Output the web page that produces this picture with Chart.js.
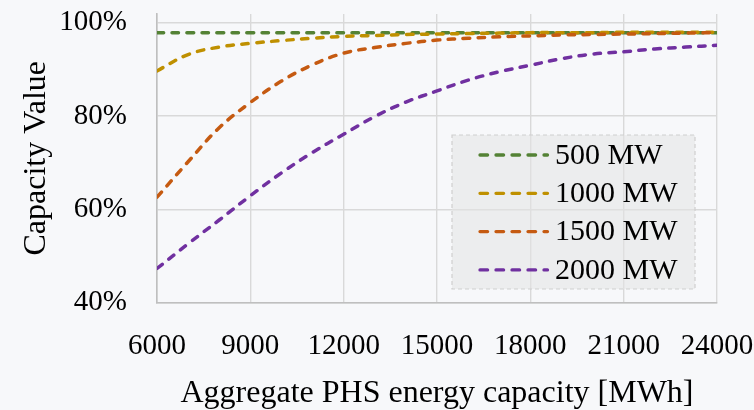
<!DOCTYPE html>
<html lang="en">
<head>
    <meta charset="UTF-8">
    <title>Capacity Value vs PHS energy capacity</title>
    <script src="https://cdn.jsdelivr.net/npm/chart.js"></script>
    <style>
        html, body {
            margin: 0;
            padding: 0;
            background: #f7f8fa;
        }
        #wrap {
            width: 754px;
            height: 410px;
        }
    </style>
</head>
<body>
    <div id="wrap"><canvas id="capChart"></canvas></div>

    <script>
        // x values (aggregate PHS energy capacity, MWh)
        const energyMWh = [6000, 7000, 8000, 9000, 10000, 11000, 12000, 13000, 14000, 15000,
            16000, 17000, 18000, 19000, 20000, 21000, 22000, 23000, 24000];

        const seriesNames = ['500 MW', '1000 MW', '1500 MW', '2000 MW'];
        const seriesColors = ['#548235', '#bf9000', '#c55a11', '#7030a0'];

        // capacity value
        const cv500 = [0.979, 0.979, 0.979, 0.979, 0.979, 0.979, 0.979, 0.979, 0.979, 0.979,
            0.979, 0.979, 0.979, 0.979, 0.979, 0.979, 0.979, 0.979, 0.979];
        const cv1000 = [0.897, 0.932, 0.948, 0.956, 0.962, 0.967, 0.971, 0.973, 0.975, 0.976,
            0.977, 0.978, 0.979, 0.979, 0.979, 0.980, 0.980, 0.980, 0.980];
        const cv1500 = [0.626, 0.702, 0.775, 0.829, 0.875, 0.910, 0.935, 0.947, 0.956, 0.963,
            0.967, 0.970, 0.972, 0.974, 0.975, 0.976, 0.977, 0.978, 0.979];
        const cv2000 = [0.473, 0.526, 0.577, 0.629, 0.678, 0.722, 0.761, 0.799, 0.830, 0.854,
            0.877, 0.895, 0.909, 0.923, 0.933, 0.938, 0.944, 0.948, 0.952];

        const xTicks = [6000, 9000, 12000, 15000, 18000, 21000, 24000];
        const yTicks = [0.4, 0.6, 0.8, 1.0];

        const FONT = "'Liberation Serif', 'Times New Roman', serif";

        const allSeries = [cv500, cv1000, cv1500, cv2000];

        const datasets = allSeries.map((vals, i) => ({
            label: seriesNames[i],
            data: vals.map((v, k) => ({ x: energyMWh[k], y: v })),
            borderColor: seriesColors[i],
            backgroundColor: seriesColors[i],
            borderWidth: 3.5,
            borderDash: [6.5, 8.5],
            borderCapStyle: 'round',
            pointRadius: 0,
            tension: 0.4,
            fill: false,
            order: allSeries.length - i // later series drawn on top
        }));

        // legend box drawn inside the plot, like the original (see-through fill)
        const boxLegend = {
            id: 'boxLegend',
            afterDatasetsDraw(chart) {
                const ctx = chart.ctx;
                const area = chart.chartArea;
                const bx = area.left + 295;
                const by = area.top + 121;
                const bw = 243;
                const bh = 154;

                ctx.save();
                ctx.fillStyle = 'rgba(228, 228, 228, 0.55)';
                ctx.fillRect(bx, by, bw, bh);
                ctx.setLineDash([4, 3]);
                ctx.strokeStyle = '#cfcfcf';
                ctx.lineWidth = 1.2;
                ctx.strokeRect(bx, by, bw, bh);

                ctx.font = '30px ' + FONT;
                ctx.textBaseline = 'middle';
                ctx.textAlign = 'left';
                chart.data.datasets.forEach((ds, i) => {
                    const ly = by + 20 + i * 38.3;
                    ctx.strokeStyle = ds.borderColor;
                    ctx.lineWidth = 3.3;
                    ctx.lineCap = 'round';
                    ctx.setLineDash([7.6, 8.4]);
                    ctx.beginPath();
                    ctx.moveTo(bx + 28, ly);
                    ctx.lineTo(bx + 95.5, ly);
                    ctx.stroke();
                    ctx.fillStyle = '#000';
                    ctx.fillText(ds.label, bx + 103, ly + 1);
                });
                ctx.restore();
            }
        };

        const ctx = document.getElementById('capChart').getContext('2d');
        new Chart(ctx, {
            type: 'line',
            data: { datasets: datasets },
            options: {
                responsive: true,
                maintainAspectRatio: false,
                animation: false,
                layout: {
                    padding: { left: 0, right: 37, top: 14, bottom: 0 }
                },
                plugins: {
                    legend: { display: false },
                    tooltip: { enabled: false }
                },
                scales: {
                    x: {
                        type: 'linear',
                        min: 6000,
                        max: 24000,
                        afterBuildTicks: (scale) => {
                            scale.ticks = xTicks.map(v => ({ value: v }));
                        },
                        afterFit: (scale) => {
                            scale.height = 107.5;
                            scale.paddingLeft = 0;
                            scale.paddingRight = 0;
                        },
                        grid: {
                            color: '#d9d9d9',
                            lineWidth: 1.4,
                            drawTicks: false
                        },
                        border: { color: '#bfbfbf', width: 1.6 },
                        ticks: {
                            color: '#000',
                            font: { family: FONT, size: 29 },
                            padding: 26,
                            maxRotation: 0,
                            callback: (v) => String(v)
                        },
                        title: {
                            display: true,
                            text: 'Aggregate PHS energy capacity [MWh]',
                            color: '#000',
                            font: { family: FONT, size: 32, lineHeight: 1.0 },
                            padding: { top: 0, bottom: 0 }
                        }
                    },
                    y: {
                        min: 0.4,
                        max: 1.019,
                        afterBuildTicks: (scale) => {
                            scale.ticks = yTicks.map(v => ({ value: v }));
                        },
                        afterFit: (scale) => {
                            scale.width = 157;
                            scale.paddingTop = 0;
                            scale.paddingBottom = 0;
                        },
                        grid: {
                            color: '#d9d9d9',
                            lineWidth: 1.4,
                            drawTicks: false
                        },
                        border: { color: '#bfbfbf', width: 1.6 },
                        ticks: {
                            color: '#000',
                            font: { family: FONT, size: 29 },
                            padding: 30,
                            callback: (v) => Math.round(v * 100) + '%'
                        },
                        title: {
                            display: true,
                            text: 'Capacity Value',
                            color: '#000',
                            font: { family: FONT, size: 32, lineHeight: 1.2 },
                            padding: { top: 17, bottom: 0 }
                        }
                    }
                }
            },
            plugins: [boxLegend]
        });
    </script>
</body>
</html>
